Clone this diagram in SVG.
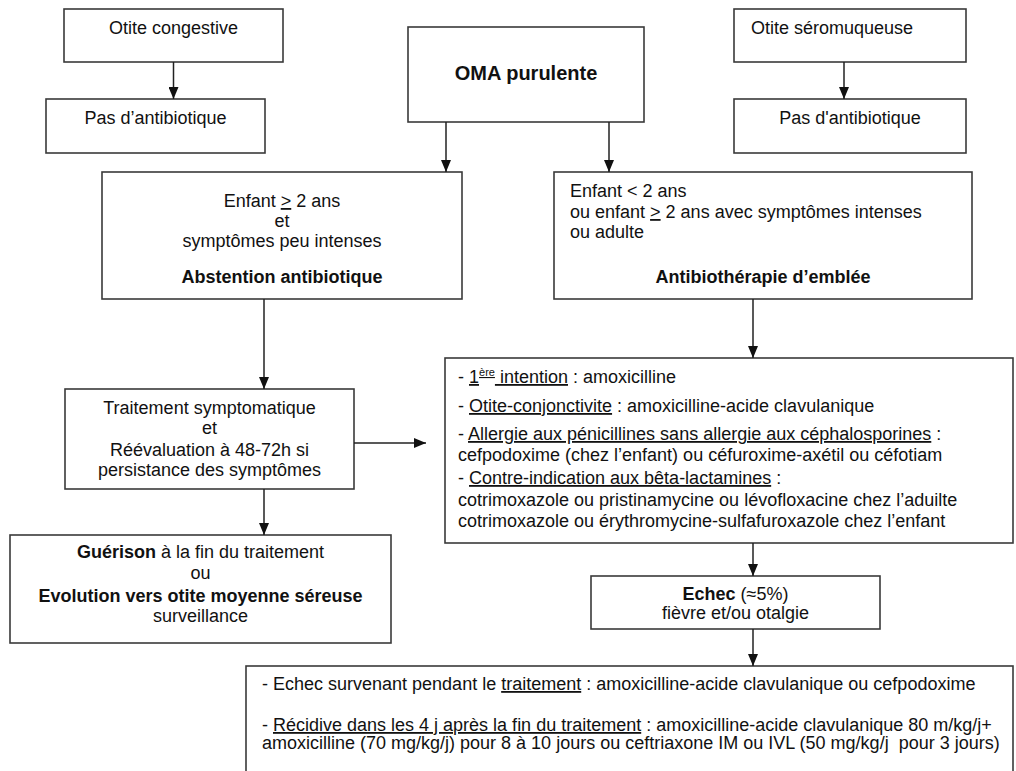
<svg xmlns="http://www.w3.org/2000/svg" width="1016" height="771" viewBox="0 0 1016 771">
<defs>
<marker id="arr" markerUnits="userSpaceOnUse" markerWidth="12" markerHeight="10" refX="12" refY="5" orient="auto">
<path d="M0,0 L12,5 L0,10 z" fill="#111"/>
</marker>
<style>
.box{fill:#fff;stroke:#3a3a3a;stroke-width:1.6}
.t{font-family:"Liberation Sans",Arial,sans-serif;font-size:18px;fill:#111}
.c{text-anchor:middle}
.b{font-weight:bold}
.u{text-decoration:underline}
.con line{stroke:#222;stroke-width:1.5;marker-end:url(#arr)}
</style>
</defs>
<rect width="1016" height="771" fill="#fff"/>
<g id="otite-congestive">
<rect class="box" x="64" y="9" width="219" height="53"/>
<text class="t c" x="173.5" y="34">Otite congestive</text>
</g>
<g id="pas-antibio-1">
<rect class="box" x="46" y="99" width="219" height="54"/>
<text class="t c" x="155.5" y="124">Pas d’antibiotique</text>
</g>
<g id="oma">
<rect class="box" x="408" y="27" width="236" height="95"/>
<text class="t c b" x="526" y="80" style="font-size:20px">OMA purulente</text>
</g>
<g id="otite-seromuqueuse">
<rect class="box" x="734" y="9" width="232" height="53"/>
<text class="t" x="751" y="34">Otite séromuqueuse</text>
</g>
<g id="pas-antibio-2">
<rect class="box" x="734" y="99" width="232" height="54"/>
<text class="t c" x="850" y="124">Pas d'antibiotique</text>
</g>
<g id="enfant-ge2">
<rect class="box" x="102" y="172" width="360" height="127"/>
<text class="t c" x="282" y="207">Enfant <tspan class="u">&gt;</tspan> 2 ans</text>
<text class="t c" x="282" y="227">et</text>
<text class="t c" x="282" y="247">symptômes peu intenses</text>
<text class="t c b" x="282" y="283">Abstention antibiotique</text>
</g>
<g id="enfant-lt2">
<rect class="box" x="554" y="172" width="418" height="127"/>
<text class="t" x="570" y="197">Enfant &lt; 2 ans</text>
<text class="t" x="570" y="218">ou enfant <tspan class="u">&gt;</tspan> 2 ans avec symptômes intenses</text>
<text class="t" x="570" y="238">ou adulte</text>
<text class="t c b" x="763" y="283">Antibiothérapie d’emblée</text>
</g>
<g id="traitement-symptomatique">
<rect class="box" x="65" y="389" width="289" height="100"/>
<text class="t c" x="209.5" y="414">Traitement symptomatique</text>
<text class="t c" x="209.5" y="434">et</text>
<text class="t c" x="209.5" y="456">Réévaluation à 48-72h si</text>
<text class="t c" x="209.5" y="476">persistance des symptômes</text>
</g>
<g id="guerison">
<rect class="box" x="10" y="535" width="381" height="108"/>
<text class="t c" x="200.5" y="558"><tspan class="b">Guérison</tspan> à la fin du traitement</text>
<text class="t c" x="200.5" y="579">ou</text>
<text class="t c b" x="200.5" y="602">Evolution vers otite moyenne séreuse</text>
<text class="t c" x="200.5" y="622">surveillance</text>
</g>
<g id="antibiotherapie">
<rect class="box" x="445" y="358" width="568" height="185"/>
<text class="t" x="458" y="383">- <tspan class="u">1<tspan style="font-size:11px" dy="-7">ère</tspan><tspan dy="7"> intention</tspan></tspan> : amoxicilline</text>
<text class="t" x="458" y="412">- <tspan class="u">Otite-conjonctivite</tspan> : amoxicilline-acide clavulanique</text>
<text class="t" x="458" y="440">- <tspan class="u">Allergie aux pénicillines sans allergie aux céphalosporines</tspan> :</text>
<text class="t" x="458" y="461">cefpodoxime (chez l’enfant) ou céfuroxime-axétil ou céfotiam</text>
<text class="t" x="458" y="484">- <tspan class="u">Contre-indication aux bêta-lactamines</tspan> :</text>
<text class="t" x="458" y="506">cotrimoxazole ou pristinamycine ou lévofloxacine chez l’aduilte</text>
<text class="t" x="458" y="527">cotrimoxazole ou érythromycine-sulfafuroxazole chez l’enfant</text>
</g>
<g id="echec">
<rect class="box" x="591" y="576" width="289" height="53"/>
<text class="t c" x="735.5" y="600"><tspan class="b">Echec</tspan> (≈5%)</text>
<text class="t c" x="735.5" y="619">fièvre et/ou otalgie</text>
</g>
<g id="echec-traitement">
<rect class="box" x="246" y="666" width="767" height="120"/>
<text class="t" x="262" y="690">- Echec survenant pendant le <tspan class="u">traitement</tspan> : amoxicilline-acide clavulanique ou cefpodoxime</text>
<text class="t" x="262" y="731">- <tspan class="u">Récidive dans les 4 j après la fin du traitement</tspan> : amoxicilline-acide clavulanique 80 m/kg/j+</text>
<text class="t" x="262" y="749">amoxicilline (70 mg/kg/j) pour 8 à 10 jours ou ceftriaxone IM ou IVL (50 mg/kg/j&#160; pour 3 jours)</text>
</g>
<g id="connectors" class="con">
<line x1="173.5" y1="62" x2="173.5" y2="99"/>
<line x1="844" y1="62" x2="844" y2="99"/>
<line x1="446" y1="122" x2="446" y2="172"/>
<line x1="609" y1="122" x2="609" y2="172"/>
<line x1="264" y1="299" x2="264" y2="389"/>
<line x1="753" y1="299" x2="753" y2="358"/>
<line x1="354" y1="443" x2="426" y2="443"/>
<line x1="264" y1="489" x2="264" y2="535"/>
<line x1="753" y1="543" x2="753" y2="576"/>
<line x1="753" y1="629" x2="753" y2="666"/>
</g>
</svg>
